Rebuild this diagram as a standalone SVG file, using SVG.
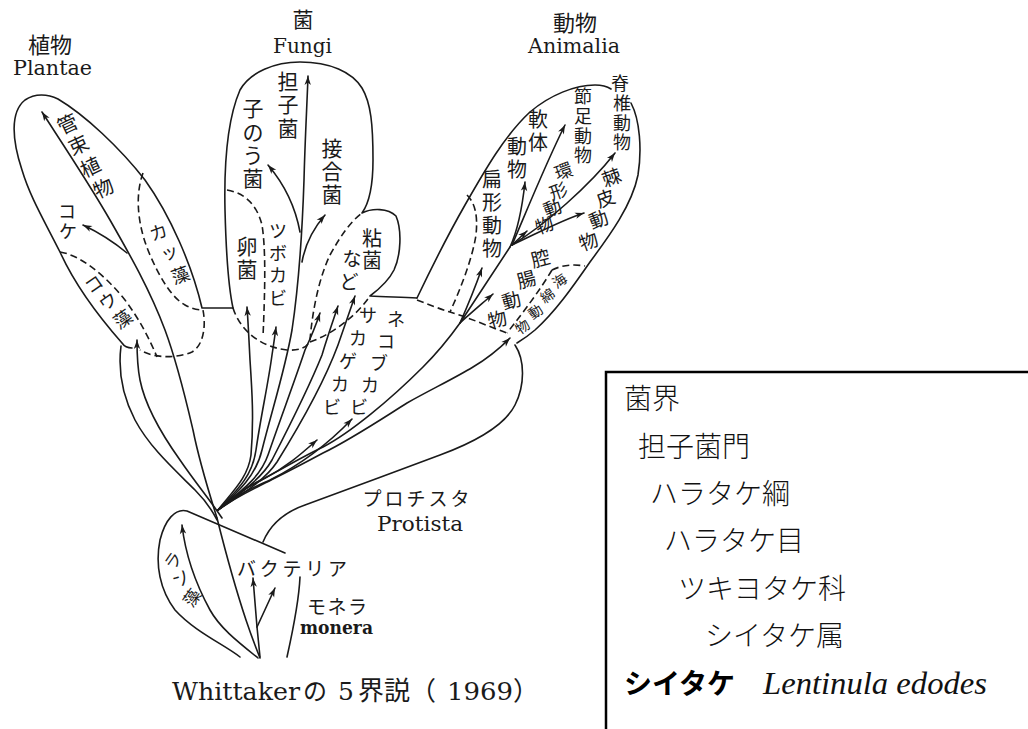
<svg xmlns="http://www.w3.org/2000/svg" width="1028" height="729" viewBox="0 0 1028 729">
<style>
.ln{fill:none;stroke:#1a1a1a;stroke-width:1.6;stroke-linecap:round;stroke-linejoin:round}
.ds{fill:none;stroke:#1a1a1a;stroke-width:1.6;stroke-dasharray:7 4}
.ar{fill:none;stroke:#1a1a1a;stroke-width:1.6;stroke-linecap:round;marker-end:url(#ah)}
.c{font-family:"Noto Sans CJK JP","Noto Sans CJK SC",sans-serif;text-anchor:middle;dominant-baseline:central;fill:#1a1a1a}
.f14{font-size:14px}.f17{font-size:17px}.f18{font-size:18px}.f19{font-size:19px}.f20{font-size:20px}.f21{font-size:21px}.f22{font-size:22px}
.lat{font-family:"DejaVu Serif","Liberation Serif",serif;fill:#1a1a1a}
.lg{font-family:"Noto Sans CJK JP","Noto Sans CJK SC",sans-serif;font-size:28px;font-weight:300;fill:#111}
.lgb{font-family:"Noto Sans CJK JP","Noto Sans CJK SC",sans-serif;font-size:28px;font-weight:700;fill:#000}
</style>
<defs>
<marker id="ah" viewBox="-11 -5 12 10" refX="0" refY="0" markerWidth="12" markerHeight="10" markerUnits="userSpaceOnUse" orient="auto">
<path d="M0,0 L-9,-3.2 L-6.5,0 L-9,3.2 Z" fill="#1a1a1a"/>
</marker>
</defs>
<rect width="1028" height="729" fill="#fff"/>

<g id="plantae">
<path class="ln" d="M132,348 C127,348 124,346 122,343 C100,318 75,285 60,252 C45,222 30,197 22,170 C12,140 10,112 25,100 C35,93 48,94 58,99 C85,115 120,148 145,180 C170,215 192,265 202,308 L233,308"/>
<path class="ln" d="M121,346 C118,370 122,395 135,420 C150,448 175,470 195,490 C205,500 212,510 217,520"/>
<path class="ds" d="M143,173 C135,195 137,225 150,255 C160,278 172,298 185,305 C192,309 198,310 203,310 C206,325 204,345 192,352 C178,358 155,359 140,350"/>
<path class="ds" d="M60,252 C80,255 105,275 125,300 C140,320 150,340 157,357"/>
<text class="c f22" x="50" y="43">植物</text>
<text class="lat" x="13" y="75" font-size="20" textLength="79" lengthAdjust="spacingAndGlyphs">Plantae</text>
<text class="c f20" transform="translate(67,123) rotate(-25)">管</text>
<text class="c f20" transform="translate(78,144) rotate(-25)">束</text>
<text class="c f20" transform="translate(90,166) rotate(-25)">植</text>
<text class="c f20" transform="translate(103,187) rotate(-25)">物</text>
<text class="c f18" x="67 68" y="210 230">コケ</text>
<text class="c f18" transform="translate(158,231) rotate(-20)">カ</text>
<text class="c f18" transform="translate(169,251) rotate(-20)">ッ</text>
<text class="c f18" transform="translate(180,274) rotate(-20)">藻</text>
<text class="c f18" transform="translate(93,283) rotate(-35)">コ</text>
<text class="c f18" transform="translate(107,300) rotate(-35)">ウ</text>
<text class="c f18" transform="translate(122,318) rotate(-35)">藻</text>
</g>

<g id="fungi">
<path class="ln" d="M233,308 C228,285 226,250 225,210 C224,165 227,120 240,90 C250,72 275,62 300,62 C330,62 352,72 362,88 C371,103 373,125 373,160 C373,185 370,202 362,213 C372,208 388,208 396,216 C402,230 401,255 394,270 C388,282 378,290 370,296 C385,297 400,297 417,298"/>
<path class="ds" d="M227,190 C245,193 257,205 262,225 C266,250 265,290 263,337"/>
<path class="ds" d="M233,308 C240,330 260,347 287,350 C300,351 308,347 310,340 C312,315 318,280 330,255 C340,237 350,222 362,213"/>
<path class="ds" d="M310,342 C330,335 355,318 370,296"/>
<text class="c f21" x="303" y="18">菌</text>
<text class="lat" x="273" y="53" font-size="20" textLength="59" lengthAdjust="spacingAndGlyphs">Fungi</text>
<text class="c f21" x="288 288 288" y="80 103 127">担子菌</text>
<text class="c f21" x="253 253 253 253" y="107 131 154 177">子のう菌</text>
<text class="c f21" x="332 332 332" y="147 170 193">接合菌</text>
<text class="c f21" x="247 247" y="245 268">卵菌</text>
<text class="c f18" x="278 278 278 278" y="230 252 274 297">ツボカビ</text>
<text class="c f20" x="372 372" y="237 259">粘菌</text>
<text class="c f19" x="352 349" y="257 280">など</text>
<text class="c f18" x="368" y="314">サ</text>
<text class="c f18" x="358" y="337">カ</text>
<text class="c f18" x="348" y="360">ゲ</text>
<text class="c f18" x="340" y="383">カ</text>
<text class="c f18" x="332" y="406">ビ</text>
<text class="c f18" x="396" y="318">ネ</text>
<text class="c f18" x="386" y="340">コ</text>
<text class="c f18" x="379" y="362">ブ</text>
<text class="c f18" x="370" y="384">カ</text>
<text class="c f18" x="359" y="406">ビ</text>
</g>

<g id="animalia">
<path class="ln" d="M417,298 C428,275 445,240 465,205 C485,170 505,135 530,112 C550,95 575,85 595,85 C603,85 608,87 611,89"/>
<path class="ln" d="M631,103 C640,120 642,150 638,175 C632,205 610,235 590,262 C572,288 555,312 535,330 C528,336 522,340 517,343"/>
<path class="ds" d="M467,195 C475,203 478,215 476,235 C472,260 460,290 450,312"/>
<path class="ds" d="M417,300 C430,305 440,309 450,312 C470,318 490,327 507,333"/>
<path class="ds" d="M552,270 C540,290 525,310 507,333"/>
<path class="ds" d="M552,270 C562,265 574,264 585,266"/>
<text class="c f22" x="575" y="21">動物</text>
<text class="lat" x="528" y="53" font-size="20" textLength="92" lengthAdjust="spacingAndGlyphs">Animalia</text>
<text class="c f18" x="620 622 622 622" y="82 102 122 141">脊椎動物</text>
<text class="c f18" x="583 583 583 583" y="95 115 135 154">節足動物</text>
<text class="c f20" x="538 538" y="118 141">軟体</text>
<text class="c f20" x="517 517" y="145 168">動物</text>
<text class="c f20" x="492 492 492 492" y="178 201 224 247">扁形動物</text>
<text class="c f18" transform="translate(563,170) rotate(-20)">環</text>
<text class="c f18" transform="translate(558,190) rotate(-20)">形</text>
<text class="c f18" transform="translate(552,207) rotate(-20)">動</text>
<text class="c f18" transform="translate(544,224) rotate(-20)">物</text>
<text class="c f19" transform="translate(611,176) rotate(-20)">棘</text>
<text class="c f19" transform="translate(605,197) rotate(-20)">皮</text>
<text class="c f19" transform="translate(598,218) rotate(-20)">動</text>
<text class="c f19" transform="translate(588,240) rotate(-20)">物</text>
<text class="c f19" transform="translate(540,257) rotate(-15)">腔</text>
<text class="c f19" transform="translate(526,278) rotate(-15)">腸</text>
<text class="c f19" transform="translate(511,299) rotate(-15)">動</text>
<text class="c f19" transform="translate(497,318) rotate(-15)">物</text>
<text class="c f14" transform="translate(559,280) rotate(-35)">海</text>
<text class="c f14" transform="translate(547,295) rotate(-35)">綿</text>
<text class="c f14" transform="translate(535,311) rotate(-35)">動</text>
<text class="c f14" transform="translate(522,326) rotate(-35)">物</text>
</g>

<g id="protista">
<path class="ln" d="M263,542 C270,525 285,512 305,505 C340,492 400,470 440,455 C475,442 505,425 515,405 C525,385 525,360 515,345"/>
<text class="c f19" x="416" y="497" textLength="107" lengthAdjust="spacing">プロチスタ</text>
<text class="lat" x="377" y="531" font-size="21" textLength="86" lengthAdjust="spacingAndGlyphs">Protista</text>
</g>

<g id="monera">
<path class="ln" d="M285,553 L187,511 C175,508 165,520 160,540 C155,565 160,590 175,610 C195,632 225,645 240,657"/>
<path class="ln" d="M217,518 C225,550 236,590 246,620 C251,635 256,648 260,658"/>
<path class="ln" d="M300,577 C299,600 293,630 287,657"/>
<text class="c f17" transform="translate(172,560) rotate(-55)">ラ</text>
<text class="c f17" transform="translate(180,577) rotate(-55)">ン</text>
<text class="c f17" transform="translate(191,597) rotate(-55)">藻</text>
<text class="c f19" x="292" y="567" textLength="110" lengthAdjust="spacing">バクテリア</text>
<text class="c f19" x="337" y="605" textLength="60" lengthAdjust="spacing">モネラ</text>
<text class="lat" x="300" y="634" font-size="19" font-weight="bold" textLength="73" lengthAdjust="spacingAndGlyphs">monera</text>
</g>

<g id="connectors">
<path class="ar" d="M217,518 C205,480 198,455 193,430 C186,400 178,365 165,330 C150,290 130,255 110,220 C90,185 62,143 42,112"/>
<path class="ar" d="M127,253 C115,243 100,233 83,225"/>
<path class="ar" d="M222,518 C210,500 195,482 180,460 C160,432 145,405 140,380 C137,365 137,352 137,340"/>
<path class="ar" d="M218,510 C232,492 248,478 251,455 C254,420 252,390 250,360 C249,340 248,320 247,307"/>
<path class="ar" d="M218,510 C235,492 252,478 256,450 C261,415 268,385 272,355 C274,342 275,335 276,327"/>
<path class="ar" d="M218,510 C238,492 256,476 262,450 C272,410 285,370 292,330 C298,290 302,240 304,180 C305,140 307,105 308,76"/>
<path class="ar" d="M300,232 C295,205 285,185 268,165"/>
<path class="ar" d="M302,262 C305,245 312,230 325,215"/>
<path class="ar" d="M218,510 C240,492 260,478 268,455 C280,420 295,380 305,350 C312,335 317,322 320,313"/>
<path class="ar" d="M218,510 C242,492 262,478 272,460 C290,425 310,385 322,355 C328,335 334,318 338,306"/>
<path class="ar" d="M218,510 C245,492 265,480 277,462 C300,425 325,380 338,345 C345,325 350,310 355,296"/>
<path class="ar" d="M218,510 C235,495 250,485 265,478 C285,468 300,455 317,440"/>
<path class="ar" d="M218,510 C235,495 255,487 270,480 C300,465 330,442 352,419"/>
<path class="ln" d="M218,510 C235,495 250,485 260,481 C280,470 300,458 323,447 C350,433 390,400 423,367 C440,350 450,337 460,323 C475,300 495,270 510,247"/>
<path class="ar" d="M218,510 C238,495 258,487 275,478 C295,468 310,460 323,453 C350,440 380,420 407,403 C430,390 455,378 473,367 C488,358 500,348 510,338"/>
<path class="ar" d="M460,323 C468,305 476,285 482,268"/>
<path class="ar" d="M460,323 C472,312 484,302 493,294"/>
<path class="ar" d="M510,247 C517,232 522,210 525,182"/>
<path class="ar" d="M512,245 L527,231"/>
<path class="ar" d="M512,245 C525,215 545,165 565,125"/>
<path class="ar" d="M512,245 C545,225 590,185 615,153"/>
<path class="ar" d="M512,245 C540,232 562,220 584,213"/>
<path class="ar" d="M258,658 C238,642 220,628 210,610 C198,588 186,560 182,525"/>
<path class="ar" d="M260,657 L257,627 L253,578"/>
<path class="ar" d="M257,627 L275,588"/>
</g>

<g id="caption">
<text class="lat" y="700" font-size="25"><tspan x="172" textLength="128" lengthAdjust="spacingAndGlyphs">Whittaker</tspan><tspan x="303" font-family="Noto Sans CJK JP, sans-serif" font-size="24">の</tspan><tspan x="338">5</tspan><tspan x="358" font-family="Noto Sans CJK JP, sans-serif" font-size="26">界説（</tspan><tspan x="447" textLength="66" lengthAdjust="spacingAndGlyphs">1969</tspan><tspan x="513" font-family="Noto Sans CJK JP, sans-serif" font-size="26">）</tspan></text>
</g>

<g id="legend">
<path d="M606,729 V372 H1028" fill="none" stroke="#000" stroke-width="2.5"/>
<text class="lg" x="624" y="409">菌界</text>
<text class="lg" x="638" y="457">担子菌門</text>
<text class="lg" x="650" y="504">ハラタケ綱</text>
<text class="lg" x="664" y="551">ハラタケ目</text>
<text class="lg" x="678" y="599">ツキヨタケ科</text>
<text class="lg" x="705" y="646">シイタケ属</text>
<text class="lgb" x="624" y="694">シイタケ</text>
<text x="763" y="694" font-family="Liberation Serif, serif" font-style="italic" font-size="32" textLength="224" lengthAdjust="spacingAndGlyphs" fill="#111">Lentinula edodes</text>
</g>
</svg>
